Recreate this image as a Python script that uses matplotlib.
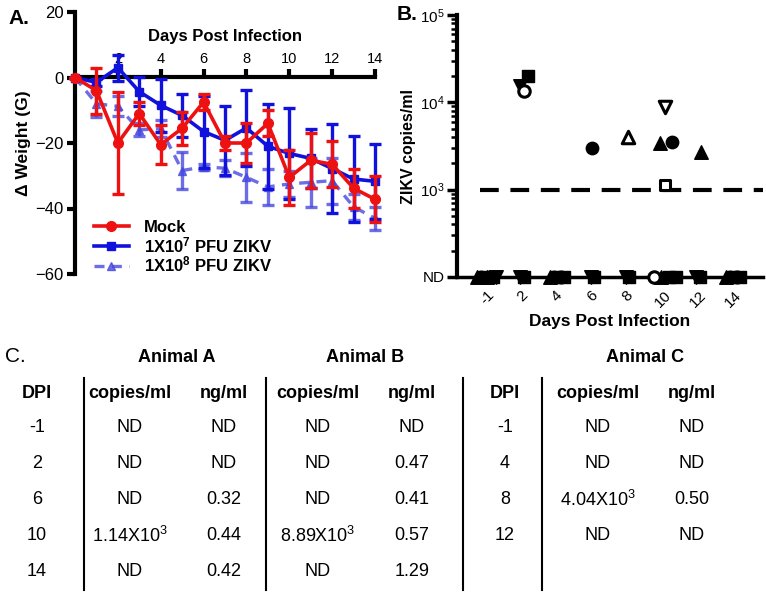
import numpy as np
import matplotlib
matplotlib.use('Agg')
import matplotlib.pyplot as plt
from matplotlib.lines import Line2D
from matplotlib.ticker import LogLocator, NullFormatter, FixedLocator

plt.rcParams['font.family'] = ['Liberation Sans', 'DejaVu Sans']
plt.rcParams['mathtext.fontset'] = 'custom'
plt.rcParams['mathtext.rm'] = 'Liberation Sans'
plt.rcParams['mathtext.it'] = 'Liberation Sans:italic'
plt.rcParams['mathtext.bf'] = 'Liberation Sans:bold'

# ---------------- Panel A data ----------------
days_a = list(range(0, 15))
mock_mean = [0, -4, -20, -11, -20.5, -15.5, -7.5, -20, -20, -14, -30.5, -25.3, -26.5, -33.8, -37.2]
mock_err = [0, 7, 15.5, 3.5, 6, 5, 2.5, 2, 6, 4, 8.5, 8.5, 7, 6, 7]
e7_mean = [0, -1.5, 3, -4.3, -8.5, -11.6, -16.5, -19.2, -15.4, -21, -23.2, -24.7, -27.8, -31, -31.7]
e7_err = [0, 1, 4, 4.5, 8, 6.5, 11, 10.5, 11.5, 13, 14, 9, 13.5, 13, 11.5]
e8_mean = [0, -8, -8.8, -16, -15.6, -28.4, -27.3, -27.7, -30.5, -33.4, -32.5, -32, -31.5, -39.5, -43]
e8_err = [0, 4, 3, 2, 2.5, 5.5, 1, 2.5, 7.5, 5.5, 4, 7.5, 7, 4, 3.5]
legend_labels = ['Mock', r'1X10$^\mathbf{7}$ PFU ZIKV', r'1X10$^\mathbf{8}$ PFU ZIKV']
a_xticks = [2, 4, 6, 8, 10, 12, 14]
a_yticks = [20, 0, -20, -40, -60]

# ---------------- Panel B data ----------------
b_days = ['-1', '2', '4', '6', '8', '10', '12', '14']
det_days = ['2', '2', '2', '6', '8', '10', '10', '10', '10', '12']
det_vals = [2.0e4, 1.55e4, 1.35e4, 3.0e3, 4.04e3, 3.4e3, 1.14e3, 8.89e3, 3.5e3, 2.7e3]
det_mark = ['s', 'v', 'o', 'o', '^', '^', 's', 'v', 'o', '^']
det_fill = [True, True, False, True, False, True, False, False, True, True]
nd_days = ['-1'] * 7 + ['2'] * 2 + ['4'] * 5 + ['6'] * 2 + ['8'] * 2 + ['10'] * 4 + ['12'] * 2 + ['14'] * 5
nd_mark = (['^', 'o', 's', '^', 'o', 's', 'v'] + ['v', 's'] + ['^', 'o', 's', 'o', 's'] + ['v', 's']
           + ['v', 's'] + ['o', '^', 's', 's'] + ['v', 's'] + ['^', 'o', 's', 'o', 's'])
nd_fill = [True] * 7 + [True] * 2 + [True] * 5 + [True] * 2 + [True] * 2 + [False, True, True, True] + [True] * 2 + [True] * 5
nd_level = 1e2
lod = 1e3

# ---------------- Panel C data ----------------
dpi_ab = ['-1', '2', '6', '10', '14']
a_copies = ['ND', 'ND', 'ND', r'1.14X10$^3$', 'ND']
a_ng = ['ND', 'ND', '0.32', '0.44', '0.42']
b_copies = ['ND', 'ND', 'ND', r'8.89X10$^3$', 'ND']
b_ng = ['ND', '0.47', '0.41', '0.57', '1.29']
dpi_c = ['-1', '4', '8', '12']
c_copies = ['ND', 'ND', r'4.04X10$^3$', 'ND']
c_ng = ['ND', 'ND', '0.50', 'ND']

W, H = 766, 596
fig = plt.figure(figsize=(W / 100, H / 100), dpi=100)


def fx(px):
    return px / W


def fy(py):
    return 1 - py / H


# ================= Panel A =================
axA = fig.add_axes([fx(75), fy(274), fx(300), (274 - 12) / H])
red = '#ee1111'
blue = '#1111dd'
lblue = '#4848e0'

axA.errorbar(days_a, e8_mean, yerr=e8_err, color=lblue, alpha=0.8, marker='^', ms=6,
             lw=2.4, ls=(0, (3, 2.2)), elinewidth=2.4, capsize=4, capthick=2.4,
             clip_on=False, zorder=3)
axA.errorbar(days_a, e7_mean, yerr=e7_err, color=blue, marker='s', ms=6,
             lw=2.6, elinewidth=2.4, capsize=4, capthick=2.4, clip_on=False, zorder=4)
axA.errorbar(days_a, mock_mean, yerr=mock_err, color=red, marker='o', ms=7,
             lw=2.6, elinewidth=2.4, capsize=4, capthick=2.4, clip_on=False, zorder=5)

axA.set_xlim(0, 14)
axA.set_ylim(-60, 20)
for s in ['right', 'bottom']:
    axA.spines[s].set_visible(False)
axA.spines['top'].set_position(('data', 0))
axA.spines['top'].set_linewidth(3)
axA.spines['left'].set_linewidth(3)
axA.xaxis.tick_top()
axA.set_xticks(a_xticks)
axA.tick_params(axis='x', direction='out', length=6, width=3, labelsize=10.5, pad=2)
axA.set_yticks(a_yticks)
axA.tick_params(axis='y', direction='out', length=6, width=3, labelsize=12, pad=2)
axA.xaxis.set_label_position('top')
axA.set_xlabel('Days Post Infection', fontsize=12, fontweight='bold', labelpad=8)
axA.set_ylabel('Δ Weight (G)', fontsize=12.5, fontweight='bold', labelpad=3)

handles = [
    Line2D([], [], color=red, marker='o', ms=7, lw=2.6),
    Line2D([], [], color=blue, marker='s', ms=6, lw=2.6),
    Line2D([], [], color=lblue, alpha=0.8, marker='^', ms=6, lw=2.4, ls=(0, (3, 2.2))),
]
leg = axA.legend(handles, legend_labels, loc='lower left', bbox_to_anchor=(0.035, -0.035),
                 frameon=False, handlelength=2.1, handletextpad=0.9, labelspacing=0.0,
                 borderpad=0.0, prop={'weight': 'bold', 'size': 12})

fig.text(fx(8), fy(18), 'A.', fontsize=15, fontweight='bold', va='center', ha='left')

# ================= Panel B =================
axB = fig.add_axes([fx(457), fy(277), fx(306), (277 - 15) / H])
pos = {d: i for i, d in enumerate(b_days)}


def draw_pt(ax, x, y, m, filled):
    size = {'o': 80, 's': 70, '^': 95, 'v': 95}[m]
    if filled:
        ax.scatter([x], [y], marker=m, s=size, c='black', edgecolors='black', linewidths=1,
                   clip_on=False, zorder=5)
    else:
        ax.scatter([x], [y], marker=m, s=size * 0.85, facecolors='white', edgecolors='black',
                   linewidths=2.2, clip_on=False, zorder=6)


# horizontal jitter (layout only) for the detected points
det_jit = [0.17, -0.06, 0.06, 0.0, 0.0, -0.07, 0.07, 0.07, 0.27, 0.1]
for d, v, m, f, j in zip(det_days, det_vals, det_mark, det_fill, det_jit):
    draw_pt(axB, pos[d] + j, v, m, f)

# ND points spread horizontally per day
for d in b_days:
    idx = [k for k, dd in enumerate(nd_days) if dd == d]
    n = len(idx)
    if d == '10':
        offs = np.linspace(-0.25, 0.37, n)
    else:
        half = 0.05 if n <= 2 else 0.2 if n <= 5 else 0.27
        offs = np.linspace(-half, half, n)
    for k, o in zip(idx, offs):
        draw_pt(axB, pos[d] + o, nd_level, nd_mark[k], nd_fill[k])

axB.hlines(lod, -0.2, 7.85, colors='black', linestyles=(0, (4.5, 2.8)), linewidth=3, zorder=2)

axB.set_yscale('log')
axB.set_ylim(nd_level, 1e5)
axB.set_xlim(-0.85, 7.85)
for s in ['right', 'top']:
    axB.spines[s].set_visible(False)
axB.spines['left'].set_linewidth(3)
axB.spines['bottom'].set_linewidth(2.5)
axB.yaxis.set_major_locator(FixedLocator([1e2, 1e3, 1e4, 1e5]))
axB.set_yticklabels(['ND', r'$10^3$', r'$10^4$', r'$10^5$'])
axB.yaxis.set_minor_locator(LogLocator(base=10, subs=np.arange(2, 10)))
axB.yaxis.set_minor_formatter(NullFormatter())
axB.tick_params(axis='y', which='major', direction='out', length=7, width=2.5, labelsize=11, pad=2)
axB.tick_params(axis='y', which='minor', direction='out', length=4, width=1.8)
axB.set_xticks(range(len(b_days)))
axB.set_xticklabels(b_days, rotation=45, ha='center', fontsize=11)
axB.tick_params(axis='x', length=3, width=1.5, pad=5)
axB.set_xlabel('Days Post Infection', fontsize=12.5, fontweight='bold', labelpad=3)
axB.set_ylabel('ZIKV copies/ml', fontsize=11.5, fontweight='bold', labelpad=3)

fig.text(fx(397), fy(14), 'B.', fontsize=15, fontweight='bold', va='center', ha='left')

# ================= Panel C (table) =================
tfam = ['Liberation Sans Narrow', 'Liberation Sans']
fig.text(fx(5), fy(356), 'C.', fontsize=15, va='center', ha='left', family=tfam)
col_x = [37, 130, 224, 318, 412, 505, 598, 692]
row_y = [428, 464, 500, 536, 572]
header_y = 393
anim_y = 357
for label, xc in zip(['Animal A', 'Animal B', 'Animal C'], [177, 365, 645]):
    fig.text(fx(xc), fy(anim_y), label, fontsize=13, fontweight='bold', ha='center', va='center', family=tfam)
for label, xc in zip(['DPI', 'copies/ml', 'ng/ml', 'copies/ml', 'ng/ml', 'DPI', 'copies/ml', 'ng/ml'], col_x):
    fig.text(fx(xc), fy(header_y), label, fontsize=13, fontweight='bold', ha='center', va='center', family=tfam)

left_cols = [dpi_ab, a_copies, a_ng, b_copies, b_ng]
for ci, col in enumerate(left_cols):
    for ri, val in enumerate(col):
        fig.text(fx(col_x[ci]), fy(row_y[ri]), val, fontsize=13, ha='center', va='center', family=tfam)
right_cols = [dpi_c, c_copies, c_ng]
for ci, col in enumerate(right_cols):
    for ri, val in enumerate(col):
        fig.text(fx(col_x[5 + ci]), fy(row_y[ri]), val, fontsize=13, ha='center', va='center', family=tfam)

for xl in [84, 266, 463, 542]:
    fig.add_artist(Line2D([fx(xl), fx(xl)], [fy(378), fy(590)], color='black', lw=1.5,
                          transform=fig.transFigure))

fig.savefig('out.png', dpi=100)
